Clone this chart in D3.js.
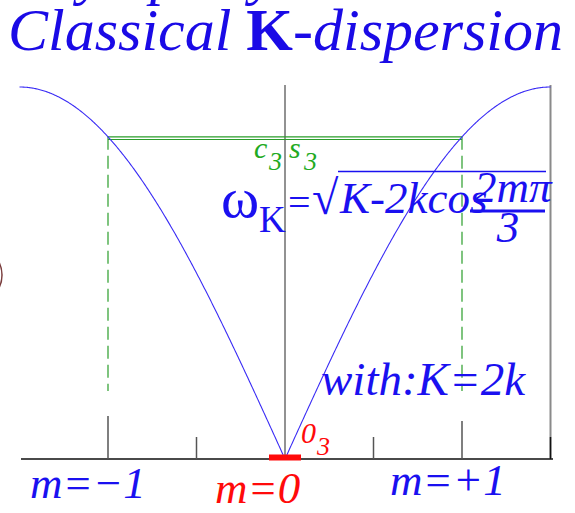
<!DOCTYPE html>
<html>
<head>
<meta charset="utf-8">
<script src="https://cdn.jsdelivr.net/npm/d3@7"></script>
</head>
<body style="margin:0">
<svg id="chart" width="575" height="513"></svg>
<script>
// Dispersion relation of a 3-site ring: omega_K = sqrt(K - 2k cos(2 m pi / 3)), with K = 2k
const kCoupling = 1;
const KConst = 2 * kCoupling;
const mDomain = [-1.5, 1.5];
const omegaDomain = [0, 2];
const modeValues = [-1, 0, 1];                 // allowed modes m
const modeLabels = ["m=\u22121", "m=0", "m=+1"];
const majorTicks = [-1, 1];
const minorTicks = [-0.5, 0.5, 1.5];

const omega = m => Math.sqrt(KConst - 2 * kCoupling * Math.cos(2 * m * Math.PI / 3));
const curveSamples = d3.range(mDomain[0], mDomain[1] + 1e-9, 0.005);

const FONT = "'Liberation Serif', monospace";
const svg = d3.select("#chart");
const x = d3.scaleLinear().domain(mDomain).range([19.5, 550.5]);
const y = d3.scaleLinear().domain(omegaDomain).range([459, 87]);

const blue = "#1a10f0";
const green = "#2a9d2a";
const red = "#ff0a0a";

// serif text helper
function label(parent, tx, ty, size, str, opts = {}) {
  const t = parent.append("text")
    .attr("x", tx).attr("y", ty)
    .style("font-family", FONT)
    .style("font-size", size + "px")
    .style("font-style", opts.upright ? "normal" : "italic")
    .text(str);
  if (opts.fill) t.attr("fill", opts.fill);
  if (opts.anchor) t.attr("text-anchor", opts.anchor);
  return t;
}

// partly visible line above the title
const above = svg.append("g").attr("fill", "#1a0ae6");
[["y", 78], ["p", 150], ["y", 250]].forEach(d => label(above, d[1], -7, 60, d[0]));

// title
const title = svg.append("text").attr("x", 8).attr("y", 50)
  .style("font-family", FONT).style("font-size", "60px").attr("fill", "#1a0ae6");
title.append("tspan").style("font-style", "italic").text("Classical ");
title.append("tspan").style("font-weight", "bold").style("font-style", "normal").text("K");
title.append("tspan").style("font-style", "italic").text("-dispersion");

// left-edge arc
svg.append("ellipse").attr("cx", -28).attr("cy", 275).attr("rx", 30).attr("ry", 29)
  .attr("fill", "none").attr("stroke", "#7a3d3d").attr("stroke-width", 1.5);

// vertical axes
svg.append("line").attr("x1", x(0)).attr("x2", x(0)).attr("y1", 85).attr("y2", y(0))
  .attr("stroke", "#6e6e6e").attr("stroke-width", 1.5);
svg.append("line").attr("x1", x(1.5)).attr("x2", x(1.5)).attr("y1", 85).attr("y2", y(0))
  .attr("stroke", "#8a8a8a").attr("stroke-width", 2);

// green level of the m = -1 and m = +1 modes
const levelY = y(omega(1));
[levelY, levelY + 2.6].forEach(ly => {
  svg.append("line").attr("x1", x(-1)).attr("x2", x(1)).attr("y1", ly).attr("y2", ly)
    .attr("stroke", green).attr("stroke-width", 1.1);
});
svg.append("g").selectAll("line").data([-1, 1]).join("line")
  .attr("x1", d => x(d)).attr("x2", d => x(d))
  .attr("y1", levelY).attr("y2", 391)
  .attr("stroke", green).attr("stroke-width", 1.2)
  .attr("stroke-dasharray", "13,6");

// dispersion curve
svg.append("path").datum(curveSamples)
  .attr("d", d3.line().x(d => x(d)).y(d => y(omega(d))))
  .attr("fill", "none").attr("stroke", "#3a2cf5").attr("stroke-width", 1.1);

// horizontal axis with ticks
svg.append("line").attr("x1", 21).attr("x2", 553).attr("y1", y(0)).attr("y2", y(0))
  .attr("stroke", "#4a4a4a").attr("stroke-width", 2);
svg.append("g").selectAll("line").data(majorTicks).join("line")
  .attr("x1", d => x(d)).attr("x2", d => x(d))
  .attr("y1", d => d < 0 ? 416 : 421).attr("y2", y(0))
  .attr("stroke", "#555").attr("stroke-width", 1.5);
svg.append("g").selectAll("line").data(minorTicks).join("line")
  .attr("x1", d => x(d)).attr("x2", d => x(d))
  .attr("y1", 437).attr("y2", y(0))
  .attr("stroke", d => d === 1.5 ? "#111" : "#555").attr("stroke-width", 1.5);

// m = 0 mode marker
svg.append("rect").attr("x", x(0) - 16).attr("y", y(0) - 4.5)
  .attr("width", 32).attr("height", 6).attr("fill", red);

// mode labels
const labelShift = { "-1": -78, "0": -70, "1": -72 };
const modes = svg.append("g");
modeValues.forEach((m, i) => {
  label(modes, x(m) + labelShift[m], m === 0 ? 503 : (m < 0 ? 498 : 495), 45,
        modeLabels[i], { fill: m === 0 ? red : blue });
});

// labels at the levels
const lvl = svg.append("g").attr("fill", "#22aa22");
label(lvl, 254, 158, 30, "c");
label(lvl, 269, 170, 26, "3");
label(lvl, 289, 158, 30, "s");
label(lvl, 304, 170, 26, "3");

const zero = svg.append("g").attr("fill", red);
label(zero, 301, 443, 30, "0");
label(zero, 317, 455, 26, "3");

// dispersion formula
const f = svg.append("g").attr("fill", blue);
label(f, 221, 217, 58, "\u03c9", { upright: true });
label(f, 259, 232, 37, "K", { upright: true });
label(f, 288, 216, 40, "=", { upright: true });
label(f, 312, 214, 48, "\u221a", { upright: true });
f.append("line").attr("x1", 338).attr("x2", 546).attr("y1", 171.5).attr("y2", 171.5)
  .attr("stroke", blue).attr("stroke-width", 1.5);
label(f, 340, 213, 45, "K-2kcos");
label(f, 474, 202, 45, "2m\u03c0");
f.append("rect").attr("x", 470).attr("y", 209.5).attr("width", 75).attr("height", 3);
label(f, 508, 242, 45, "3", { anchor: "middle" });

label(svg, 321, 395, 47, "with:K=2k", { fill: blue });
</script>
</body>
</html>
